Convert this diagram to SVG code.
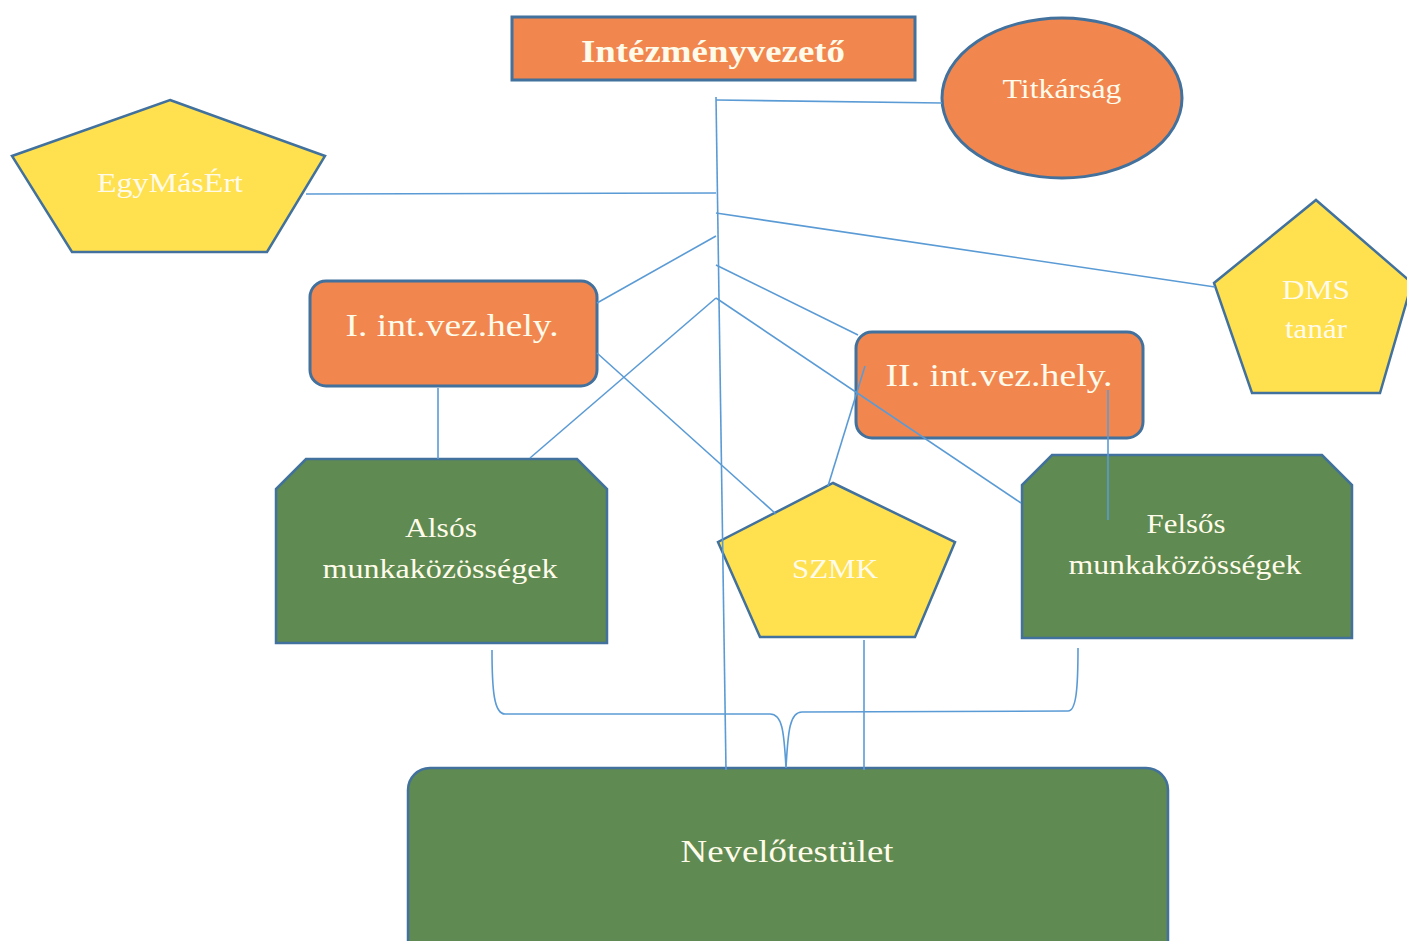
<svg xmlns="http://www.w3.org/2000/svg" width="1407" height="941" viewBox="0 0 1407 941">
<style>
.or{fill:#F2864F;stroke:#41719C;stroke-width:3}
.ye{fill:#FFE04E;stroke:#41719C;stroke-width:2.5}
.gr{fill:#5F8A51;stroke:#41719C;stroke-width:2.5}
.t{font-family:"Liberation Serif","Times New Roman",serif;fill:#FFFBEA;text-anchor:middle}
.cn{fill:none;stroke:#5B9BD5;stroke-width:1.6}
</style>
<rect width="1407" height="941" fill="#FFFFFF"/>
<g id="nodes">
<g id="intezmenyvezeto">
<rect class="or" x="512" y="17" width="403" height="63"/>
<text class="t" x="713" y="62" font-size="32" font-weight="bold" textLength="264" lengthAdjust="spacingAndGlyphs">Intézményvezető</text>
</g>
<g id="titkarsag">
<ellipse class="or" cx="1062" cy="98" rx="120" ry="80"/>
<text class="t" x="1062" y="98" font-size="28" textLength="119" lengthAdjust="spacingAndGlyphs">Titkárság</text>
</g>
<g id="egymasert">
<polygon class="ye" points="170,100 325,156 267,252 72,252 12,156"/>
<text class="t" x="170" y="192" font-size="28" textLength="146" lengthAdjust="spacingAndGlyphs">EgyMásÉrt</text>
</g>
<g id="dms">
<polygon class="ye" points="1316,200 1412,283 1380,393 1252,393 1214,283"/>
<text class="t" x="1316" y="299" font-size="28" textLength="68" lengthAdjust="spacingAndGlyphs">DMS</text>
<text class="t" x="1316" y="338" font-size="28" textLength="62" lengthAdjust="spacingAndGlyphs">tanár</text>
</g>
<g id="int1">
<rect class="or" x="310" y="281" width="287" height="105" rx="16"/>
<text class="t" x="452" y="336" font-size="32" textLength="213" lengthAdjust="spacingAndGlyphs">I. int.vez.hely.</text>
</g>
<g id="int2">
<rect class="or" x="856" y="332" width="287" height="106" rx="16"/>
<text class="t" x="999" y="386" font-size="32" textLength="227" lengthAdjust="spacingAndGlyphs">II. int.vez.hely.</text>
</g>
<g id="also">
<polygon class="gr" points="306,459 577,459 607,489 607,643 276,643 276,489"/>
<text class="t" x="441" y="537" font-size="28" textLength="72" lengthAdjust="spacingAndGlyphs">Alsós</text>
<text class="t" x="440" y="578" font-size="28" textLength="235" lengthAdjust="spacingAndGlyphs">munkaközösségek</text>
</g>
<g id="felso">
<polygon class="gr" points="1052,455 1322,455 1352,485 1352,638 1022,638 1022,485"/>
<text class="t" x="1186" y="533" font-size="28" textLength="79" lengthAdjust="spacingAndGlyphs">Felsős</text>
<text class="t" x="1185" y="574" font-size="28" textLength="233" lengthAdjust="spacingAndGlyphs">munkaközösségek</text>
</g>
<g id="szmk">
<polygon class="ye" points="833,483 955,542 915,637 760,637 718,542"/>
<text class="t" x="835" y="578" font-size="28" textLength="86" lengthAdjust="spacingAndGlyphs">SZMK</text>
</g>
<g id="nevelotestulet">
<rect class="gr" x="408" y="768" width="760" height="200" rx="22"/>
<text class="t" x="787" y="862" font-size="32" textLength="213" lengthAdjust="spacingAndGlyphs">Nevelőtestület</text>
</g>
</g>
<g id="connectors">
<line class="cn" x1="716" y1="97" x2="726" y2="770"/>
<line class="cn" x1="716" y1="100" x2="942" y2="103"/>
<line class="cn" x1="306" y1="194" x2="716" y2="193"/>
<line class="cn" x1="716" y1="213" x2="1215" y2="287"/>
<line class="cn" x1="716" y1="236" x2="597" y2="303"/>
<line class="cn" x1="716" y1="265" x2="858" y2="335"/>
<line class="cn" x1="716" y1="298" x2="530" y2="458"/>
<line class="cn" x1="716" y1="298" x2="1021" y2="503"/>
<line class="cn" x1="597" y1="353" x2="776" y2="514"/>
<line class="cn" x1="828" y1="486" x2="865" y2="366"/>
<line class="cn" x1="438" y1="388" x2="438" y2="459"/>
<line class="cn" x1="1108" y1="390" x2="1108" y2="520"/>
<line class="cn" x1="864" y1="640" x2="864" y2="770"/>
<path class="cn" d="M492,650 C492,690 494,714 505,714 L770,714 C782,714 784,730 786,768 C788,730 790,712 802,712 L1068,711 C1076,711 1078,690 1078,648"/>
</g>
</svg>
